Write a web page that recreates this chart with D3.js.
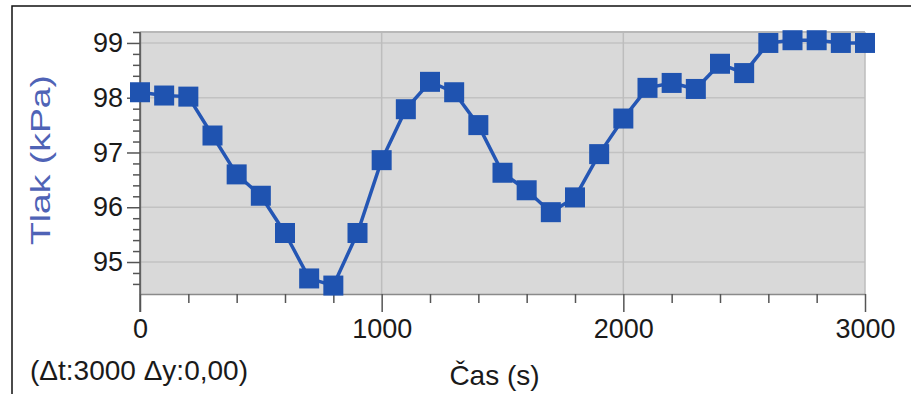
<!DOCTYPE html>
<html>
<head>
<meta charset="utf-8">
<script src="https://cdn.jsdelivr.net/npm/d3@7"></script>
<style>
  html, body { margin: 0; padding: 0; background: #fff; }
  svg { display: block; font-family: "Liberation Sans", Arial, sans-serif; }
</style>
</head>
<body>
<div id="chart"></div>
<script>
// time (s)
const time = [0, 100, 200, 300, 400, 500, 600, 700, 800, 900, 1000,
  1100, 1200, 1300, 1400, 1500, 1600, 1700, 1800, 1900, 2000,
  2100, 2200, 2300, 2400, 2500, 2600, 2700, 2800, 2900, 3000];
// pressure (kPa)
const pressure = [98.10, 98.04, 98.02, 97.31, 96.60, 96.21, 95.53, 94.70, 94.57, 95.53, 96.86,
  97.79, 98.29, 98.10, 97.50, 96.63, 96.31, 95.91, 96.18, 96.97, 97.62,
  98.18, 98.27, 98.16, 98.62, 98.45, 99.00, 99.05, 99.05, 99.00, 99.00];

const xMajor = [0, 1000, 2000, 3000];
const xMinor = [200, 400, 600, 800, 1200, 1400, 1600, 1800, 2200, 2400, 2600, 2800];
const yMajor = [95, 96, 97, 98, 99];
const yMinor = [94.6, 94.8, 95.2, 95.4, 95.6, 95.8, 96.2, 96.4, 96.6, 96.8,
  97.2, 97.4, 97.6, 97.8, 98.2, 98.4, 98.6, 98.8, 99.2];

const xTitle = "Čas (s)";
const yTitle = "Tlak (kPa)";
const deltaText = "(Δt:3000 Δy:0,00)";

const W = 911, H = 394;
const plot = { left: 140, right: 865, top: 32, bottom: 294 };

const svg = d3.select("#chart").append("svg")
  .attr("width", W)
  .attr("height", H);

// outer frame (only top and left are inside the picture)
svg.append("path")
  .attr("d", `M12,${H} L12,6 L${W},6`)
  .attr("fill", "none")
  .attr("stroke", "#111")
  .attr("stroke-width", 1.5);

const x = d3.scaleLinear().domain([0, 3000]).range([plot.left, plot.right]);
const y = d3.scaleLinear().domain([94.416, 99.2]).range([plot.bottom, plot.top]);

// plot background
svg.append("rect")
  .attr("x", plot.left)
  .attr("y", plot.top)
  .attr("width", plot.right - plot.left)
  .attr("height", plot.bottom - plot.top)
  .attr("fill", "#d9d9d9");

// grid
const grid = svg.append("g");
grid.selectAll("line.h")
  .data(yMajor)
  .enter().append("line")
  .attr("x1", plot.left).attr("x2", plot.right)
  .attr("y1", d => y(d)).attr("y2", d => y(d))
  .attr("stroke", "#c2c2c2")
  .attr("stroke-width", 1.5);
grid.selectAll("line.v")
  .data(xMajor.slice(1))
  .enter().append("line")
  .attr("y1", plot.top).attr("y2", plot.bottom)
  .attr("x1", d => x(d)).attr("x2", d => x(d))
  .attr("stroke", "#bdbdbd")
  .attr("stroke-width", 1.5);
grid.append("line")
  .attr("x1", plot.left).attr("x2", plot.right)
  .attr("y1", plot.top).attr("y2", plot.top)
  .attr("stroke", "#b8b8b8")
  .attr("stroke-width", 2);

// axes
function styleAxis(g) {
  g.select(".domain").attr("stroke", "#8a8a8a").attr("stroke-width", 1.5);
  g.selectAll(".tick line").attr("stroke", "#555").attr("stroke-width", 1.5);
  g.selectAll(".tick text")
    .attr("fill", "#1a1a1a")
    .attr("font-size", 27)
    .attr("font-family", "'Liberation Sans', Arial, sans-serif");
}

svg.append("g")
  .attr("transform", `translate(0,${plot.bottom})`)
  .call(d3.axisBottom(x).tickValues(xMinor).tickSize(9).tickFormat("").tickSizeOuter(0))
  .call(styleAxis);

svg.append("g")
  .attr("transform", `translate(0,${plot.bottom})`)
  .call(d3.axisBottom(x).tickValues(xMajor).tickSize(18).tickPadding(7)
    .tickFormat(d3.format("d")).tickSizeOuter(0))
  .call(styleAxis)
  .call(g => g.select(".domain").remove());

svg.append("g")
  .attr("transform", `translate(${plot.left},0)`)
  .call(d3.axisLeft(y).tickValues(yMinor).tickSize(7).tickFormat("").tickSizeOuter(0))
  .call(styleAxis);

svg.append("g")
  .attr("transform", `translate(${plot.left},0)`)
  .call(d3.axisLeft(y).tickValues(yMajor).tickSize(13).tickPadding(4)
    .tickFormat(d3.format("d")).tickSizeOuter(0))
  .call(styleAxis)
  .call(g => g.select(".domain").remove());

// left axis continues down to the bottom of the major x tick
svg.append("line")
  .attr("x1", plot.left).attr("x2", plot.left)
  .attr("y1", plot.top).attr("y2", plot.bottom + 18)
  .attr("stroke", "#555")
  .attr("stroke-width", 1.5);

// series
const data = time.map((t, i) => ({ t: t, p: pressure[i] }));

svg.append("path")
  .datum(data)
  .attr("fill", "none")
  .attr("stroke", "#2456b4")
  .attr("stroke-width", 3.5)
  .attr("stroke-linejoin", "round")
  .attr("d", d3.line().x(d => x(d.t)).y(d => y(d.p)));

const sq = 20;
svg.append("g")
  .selectAll("rect")
  .data(data)
  .enter().append("rect")
  .attr("x", d => x(d.t) - sq / 2)
  .attr("y", d => y(d.p) - sq / 2)
  .attr("width", sq)
  .attr("height", sq)
  .attr("fill", "#1f53b0");

// titles
svg.append("text")
  .attr("x", (plot.left + plot.right) / 2 - 8)
  .attr("y", 385)
  .attr("text-anchor", "middle")
  .attr("font-size", 28)
  .attr("fill", "#1a1a1a")
  .text(xTitle);

svg.append("text")
  .attr("x", 30)
  .attr("y", 380)
  .attr("font-size", 28)
  .attr("fill", "#1a1a1a")
  .text(deltaText);

svg.append("text")
  .attr("transform", "translate(50,160) rotate(-90)")
  .attr("text-anchor", "middle")
  .attr("font-size", 27)
  .attr("fill", "#4f63b6")
  .attr("textLength", 170)
  .attr("lengthAdjust", "spacingAndGlyphs")
  .text(yTitle);
</script>
</body>
</html>
